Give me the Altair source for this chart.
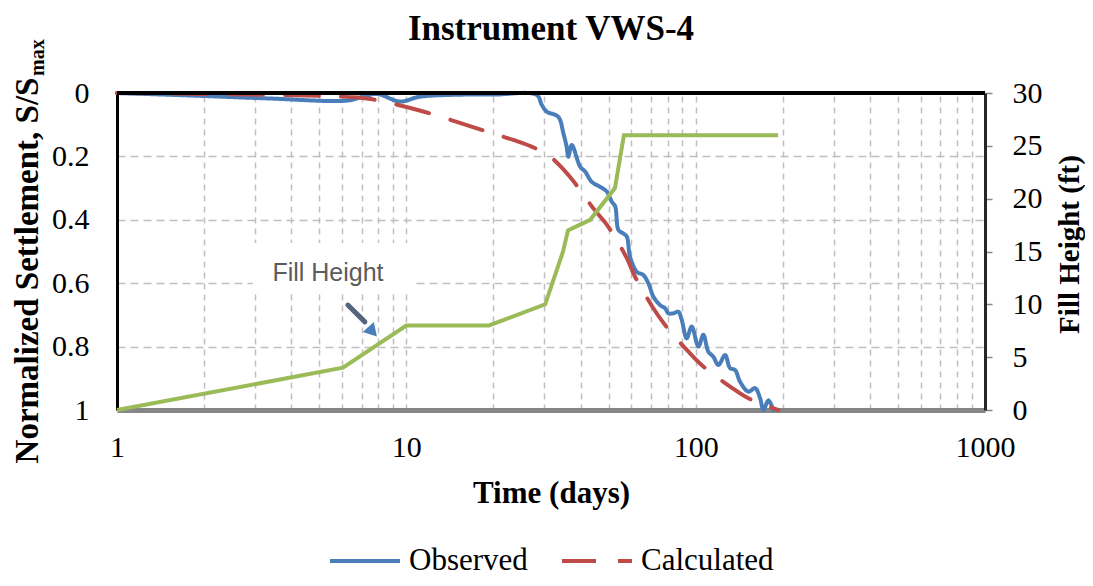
import altair as alt
import pandas as pd

# ---------------- data ----------------
title_text = "Instrument VWS-4"
series_names = ["Observed", "Calculated"]

obs_t = [1, 1.94, 3.3, 6.24, 7.0, 7.92, 9.51, 11.1, 14.2, 20, 28.2, 29.4, 30.6,
         33.5, 34.9, 35.8, 36.3, 37.3, 39.9, 41.5, 43.7, 46.7, 49.3, 51.3, 52.7,
         54.1, 56.2, 57.8, 59.3, 62.6, 65.9, 68.6, 71.4, 75.3, 78.4, 80.5, 83.8,
         87.1, 89.5, 93.1, 96.9, 102.2, 106.3, 110.6, 115.1, 119.8, 126.4, 131.5,
         136.9, 142.4, 152.1, 160.5, 167.0, 171.4, 178.4, 185.6]
obs_s = [0, 0.009, 0.017, 0.024, 0.013, 0.003, 0.027, 0.012, 0.006, 0.005, 0.006,
         0.038, 0.059, 0.075, 0.127, 0.169, 0.201, 0.164, 0.233, 0.248, 0.280,
         0.296, 0.311, 0.343, 0.358, 0.432, 0.443, 0.453, 0.516, 0.564, 0.574,
         0.600, 0.642, 0.669, 0.679, 0.695, 0.695, 0.690, 0.716, 0.774, 0.737,
         0.800, 0.763, 0.816, 0.832, 0.858, 0.827, 0.868, 0.874, 0.911, 0.942,
         0.931, 0.963, 1.0, 0.970, 1.0]

calc_t = [1, 2, 3, 4.5, 6.4, 7.5, 10, 11.6, 15.3, 19, 23.4, 27.1, 31.4, 34.4,
          38.3, 44.3, 49.9, 57.8, 61.7, 71.4, 78.4, 94.4, 106.3, 131.5, 152.1, 193]
calc_s = [0, 0.003, 0.005, 0.008, 0.013, 0.019, 0.044, 0.06, 0.094, 0.122, 0.148,
          0.169, 0.201, 0.235, 0.285, 0.364, 0.422, 0.521, 0.579, 0.679, 0.732,
          0.816, 0.863, 0.926, 0.963, 1.0]

fill_t = [1, 6.04, 10, 19.3, 30.2, 34.8, 36.2, 43.2, 52.6, 56.5, 192.7]
fill_h = [0, 4, 8, 8, 10, 15, 17, 18, 21, 26, 26]

x_label_values = [1, 10, 100, 1000]
x_grid_values = [1, 2, 3, 4, 5, 6, 7, 8, 9,
                 10, 20, 30, 40, 50, 60, 70, 80, 90,
                 100, 200, 300, 400, 500, 600, 700, 800, 900, 1000]
s_ticks = [0, 0.2, 0.4, 0.6, 0.8, 1]
h_ticks = [0, 5, 10, 15, 20, 25, 30]

note_text = ["Fill Height"]
note_t = [5.36]
note_s = [0.592]
box_t = [2.95, 10.55]
box_s = [0.473, 0.628]
arrow_t = [6.28, 7.19]
arrow_s = [0.669, 0.722]
head_t = [7.56]
head_s = [0.748]

# ---------------- tables ----------------
settle_df = pd.DataFrame({
    "t": obs_t + calc_t,
    "s": obs_s + calc_s,
    "series": [series_names[0]] * len(obs_t) + [series_names[1]] * len(calc_t),
})
fill_df = pd.DataFrame({"t": fill_t, "h": fill_h})
note_df = pd.DataFrame({"t": note_t, "s": note_s, "label": note_text})
box_df = pd.DataFrame({"t": [box_t[0]], "t2": [box_t[1]], "s": [box_s[0]], "s2": [box_s[1]]})
arrow_df = pd.DataFrame({"t": [arrow_t[0]], "t2": [arrow_t[1]], "s": [arrow_s[0]], "s2": [arrow_s[1]]})
head_df = pd.DataFrame({"t": head_t, "s": head_s})
top_df = pd.DataFrame({"s": [0]})
sub_df = pd.DataFrame({"label": ["max"]})
title_df = pd.DataFrame({"label": [title_text]})

BLUE = "#4A7EBB"
RED = "#BE4B48"
GREEN = "#9BBB59"
GRID = "#BFBFBF"
SERIF = "Liberation Serif"

xscale = alt.Scale(type="log", domain=[1, 1000], nice=False)
sscale = alt.Scale(domain=[0, 1], reverse=True, nice=False)
hscale = alt.Scale(domain=[0, 30], nice=False)

x_axis = alt.Axis(
    values=x_grid_values, format="d",
    labelExpr="indexof([1, 10, 100, 1000], datum.value) >= 0 ? datum.label : ''",
    labelOverlap=False, labelFlush=False, labelBound=False,
    title="Time (days)", titleFontSize=31, titleFontWeight="bold", titleFont=SERIF,
    titleX=434, titleY=92, titleBaseline="alphabetic", titleAlign="center",
    grid=True, gridDash=[6, 5], gridColor=GRID, gridWidth=1.5,
    ticks=False, tickSize=0, labelPadding=22, labelFontSize=30, labelFont=SERIF,
    labelColor="black", domainColor="#868686", domainWidth=5,
)

s_axis = alt.Axis(
    values=s_ticks, format="~g", orient="left",
    title="Normalized Settlement, S/S", titleFontSize=33, titleFontWeight="bold",
    titleFont=SERIF, titleAngle=270, titleX=-80, titleY=177,
    titleAlign="center", titleBaseline="alphabetic",
    grid=True, gridDash=[8, 5], gridColor=GRID, gridWidth=1.5,
    ticks=False, tickSize=0, labelPadding=28, labelFontSize=30, labelFont=SERIF,
    labelColor="black", domainColor="black", domainWidth=3,
)

h_axis = alt.Axis(
    values=h_ticks, orient="right",
    title="Fill Height (ft)", titleFontSize=29, titleFontWeight="bold",
    titleFont=SERIF, titleAngle=270, titleX=93, titleY=151,
    titleAlign="center", titleBaseline="alphabetic",
    grid=False, ticks=True, tickSize=7, tickColor="#868686", tickWidth=1.5,
    labelPadding=20, labelFontSize=30, labelFont=SERIF, labelColor="black",
    domainColor="#262626", domainWidth=3,
)

leg = alt.Legend(
    title=None, orient="none", legendX=211, legendY=431, direction="horizontal",
    symbolType="stroke", symbolSize=4900, symbolStrokeWidth=4,
    labelFontSize=31, labelFont=SERIF, labelColor="black", labelOffset=7,
    columnPadding=26, padding=0,
)


def X(field="t"):
    return alt.X(f"{field}:Q", scale=xscale, axis=x_axis)


def YS(field="s"):
    return alt.Y(f"{field}:Q", scale=sscale, axis=s_axis)


box = alt.Chart(box_df).mark_rect(fill="white").encode(
    x=X(), x2="t2:Q", y=YS(), y2="s2:Q",
)

note = alt.Chart(note_df).mark_text(
    font="Liberation Sans", fontSize=25, color="#404040", align="center",
    baseline="alphabetic", opacity=0.85,
).encode(x=X(), y=YS(), text="label:N")

arrow = alt.Chart(arrow_df).mark_rule(color="#56657F", strokeWidth=5, strokeCap="round").encode(
    x=X(), x2="t2:Q", y=YS(), y2="s2:Q",
)

head = alt.Chart(head_df).mark_point(
    shape="triangle", filled=True, size=220, angle=138, color=BLUE, opacity=1,
).encode(x=X(), y=YS())

lines = alt.Chart(settle_df).mark_line(
    strokeWidth=4, interpolate="catmull-rom", strokeCap="round",
).encode(
    x=X(), y=YS(),
    color=alt.Color("series:N", scale=alt.Scale(domain=series_names, range=[BLUE, RED]), legend=leg),
    strokeDash=alt.StrokeDash("series:N", scale=alt.Scale(domain=series_names, range=[[1, 0], [34, 22]]), legend=leg),
)

top_rule = alt.Chart(top_df).mark_rule(color="black", strokeWidth=4).encode(y=YS())

sub = alt.Chart(sub_df).mark_text(
    font=SERIF, fontSize=20, fontWeight="bold", color="black", angle=270,
    align="left", baseline="alphabetic",
).encode(x=alt.value(-73), y=alt.value(-17), text="label:N")

title = alt.Chart(title_df).mark_text(
    font=SERIF, fontSize=35, fontWeight="bold", color="black",
    align="center", baseline="alphabetic",
).encode(x=alt.value(434), y=alt.value(-53), text="label:N")

settle = alt.layer(box, note, arrow, head, lines, top_rule, sub, title)

fill = alt.Chart(fill_df).mark_line(color=GREEN, strokeWidth=4).encode(
    x=X(),
    y=alt.Y("h:Q", scale=hscale, axis=h_axis),
)

chart = alt.layer(settle, fill).resolve_scale(y="independent").properties(
    width=868, height=317,
    autosize=alt.AutoSizeParams(type="none"),
    padding={"left": 109, "top": 85, "right": 100, "bottom": 168},
).configure_view(stroke="transparent").configure_axis(labelColor="black", titleColor="black")

chart.save("out.html", embed_options={"renderer": "svg", "actions": False})
